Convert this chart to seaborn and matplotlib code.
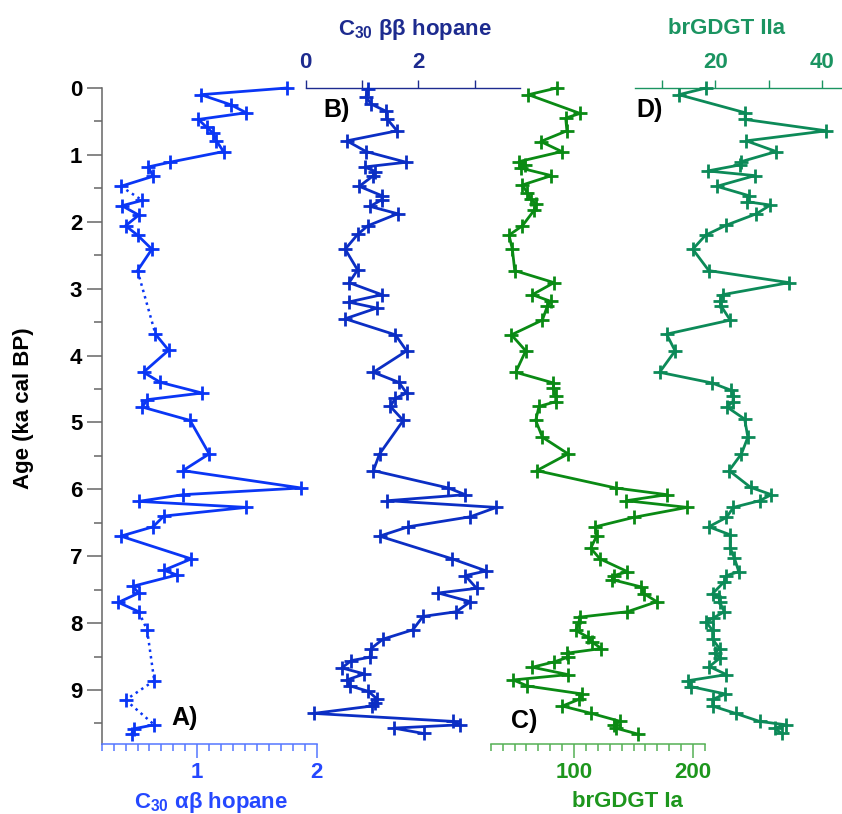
import numpy as np
import pandas as pd
import matplotlib
matplotlib.use("Agg")
import matplotlib.pyplot as plt
import seaborn as sns
from matplotlib.ticker import FixedLocator, MultipleLocator

# --- data (age in ka cal BP) ---
ages_a = [0.00, 0.10, 0.25, 0.37, 0.47, 0.59, 0.67, 0.79, 0.95, 1.11,
          1.18, 1.32, 1.47, 1.68, 1.76, 1.90, 2.06, 2.20, 2.41, 2.73,
          3.68, 3.92, 4.25, 4.40, 4.56, 4.66, 4.77, 4.97, 5.47, 5.72,
          5.98, 6.08, 6.18, 6.27, 6.40, 6.56, 6.70, 7.04, 7.21, 7.28,
          7.45, 7.55, 7.69, 7.83, 8.10, 8.86, 9.15, 9.52, 9.58, 9.66]
hopane_ab = [1.75, 1.03, 1.28, 1.41, 1.01, 1.08, 1.13, 1.16, 1.22, 0.77,
             0.59, 0.63, 0.36, 0.54, 0.37, 0.51, 0.40, 0.50, 0.62, 0.50,
             0.65, 0.76, 0.55, 0.69, 1.04, 0.58, 0.54, 0.94, 1.10, 0.88,
             1.87, 0.88, 0.51, 1.41, 0.72, 0.63, 0.36, 0.95, 0.72, 0.83,
             0.46, 0.51, 0.34, 0.51, 0.58, 0.64, 0.40, 0.64, 0.47, 0.45]
# segments (start index) drawn dotted in panel A
dotted_a = [12, 19, 43, 44, 45, 46]

ages_b = [0.01, 0.13, 0.24, 0.35, 0.46, 0.64, 0.79, 0.95, 1.11, 1.18,
          1.25, 1.31, 1.47, 1.61, 1.67, 1.77, 1.88, 2.06, 2.19, 2.41,
          2.72, 2.91, 3.09, 3.20, 3.29, 3.45, 3.69, 3.93, 4.25, 4.40,
          4.56, 4.64, 4.76, 4.97, 5.47, 5.72, 5.98, 6.08, 6.17, 6.27,
          6.41, 6.56, 6.70, 7.04, 7.22, 7.29, 7.48, 7.55, 7.68, 7.83,
          7.90, 8.10, 8.24, 8.38, 8.51, 8.56, 8.67, 8.76, 8.85, 8.94,
          9.02, 9.13, 9.19, 9.24, 9.35, 9.47, 9.52, 9.57, 9.65]
hopane_bb = [1.10, 1.07, 1.16, 1.43, 1.44, 1.62, 0.73, 1.07, 1.78, 1.05,
             1.23, 1.20, 0.95, 1.35, 1.35, 1.14, 1.63, 1.10, 0.92, 0.70,
             0.92, 0.77, 1.35, 0.76, 1.26, 0.70, 1.59, 1.79, 1.20, 1.65,
             1.79, 1.59, 1.50, 1.73, 1.31, 1.20, 2.53, 2.83, 1.45, 3.38,
             2.92, 1.82, 1.31, 2.60, 3.20, 2.83, 3.03, 2.35, 2.92, 2.67,
             2.08, 1.90, 1.37, 1.16, 1.14, 0.81, 0.64, 1.04, 0.73, 0.79,
             1.11, 1.26, 1.23, 1.17, 0.14, 2.62, 2.74, 1.56, 2.09]

ages_c = [0.00, 0.10, 0.38, 0.45, 0.64, 0.80, 0.95, 1.10, 1.15, 1.20,
          1.31, 1.45, 1.57, 1.66, 1.73, 1.83, 2.06, 2.20, 2.41, 2.73,
          2.91, 3.09, 3.19, 3.26, 3.47, 3.69, 3.93, 4.25, 4.41, 4.49,
          4.60, 4.69, 4.76, 4.97, 5.22, 5.47, 5.72, 5.98, 6.08, 6.17,
          6.27, 6.42, 6.56, 6.70, 6.88, 7.04, 7.23, 7.29, 7.35, 7.46,
          7.56, 7.68, 7.83, 7.91, 7.99, 8.11, 8.21, 8.28, 8.38, 8.45,
          8.51, 8.58, 8.66, 8.77, 8.85, 8.94, 9.06, 9.14, 9.24, 9.35,
          9.47, 9.52, 9.57, 9.66]
brgdgt_ia = [85.5, 61.7, 105, 93, 94, 72, 89.7, 53.8, 58.6, 55.8,
             81, 56.6, 60.8, 63.6, 67.8, 66.4, 56.6, 45.4, 48.2, 50.2,
             83.2, 65, 80.4, 77.6, 73.4, 47.4, 59.4, 51, 82.7, 82.7,
             84.6, 84.6, 70.6, 67.8, 73.4, 95, 68.7, 135, 178, 144,
             195, 150, 118, 119, 114, 121.8, 144.8, 133.6, 132, 156.6,
             158.8, 169.5, 144.8, 105, 104, 101.4, 111.8, 114.9, 123, 93.9,
             95, 83.2, 65, 95, 49, 60.8, 107, 104.2, 90.2, 114.6,
             139, 133.6, 135, 153.8]

ages_d = [0.00, 0.10, 0.37, 0.47, 0.64, 0.79, 0.95, 1.10, 1.15, 1.24,
          1.31, 1.47, 1.61, 1.70, 1.75, 1.88, 2.05, 2.20, 2.41, 2.73,
          2.91, 3.09, 3.19, 3.26, 3.47, 3.68, 3.93, 4.25, 4.41, 4.52,
          4.60, 4.69, 4.77, 4.95, 5.22, 5.47, 5.72, 5.97, 6.08, 6.17,
          6.27, 6.42, 6.56, 6.68, 6.88, 7.03, 7.23, 7.29, 7.38, 7.56,
          7.61, 7.68, 7.83, 7.93, 7.98, 8.11, 8.24, 8.38, 8.45, 8.52,
          8.65, 8.77, 8.86, 8.95, 9.06, 9.14, 9.24, 9.35, 9.47, 9.52,
          9.57, 9.65]
brgdgt_iia = [18.3, 13.2, 25.6, 25.6, 40.8, 25.8, 31.4, 24.9, 24.6, 18.6,
              27.4, 20.3, 26.3, 26.0, 30.3, 27.7, 22.1, 18.2, 15.8, 18.8,
              33.8, 21.4, 20.9, 21.1, 22.8, 10.9, 12.5, 9.6, 19.4, 23.0,
              23.4, 23.3, 22.2, 25.5, 26.1, 24.9, 22.6, 26.6, 30.5, 28.3,
              23.4, 22.1, 18.8, 22.8, 22.8, 23.6, 24.4, 22.1, 21.7, 19.5,
              20.7, 20.8, 21.7, 19.5, 18.3, 19.5, 19.5, 20.8, 19.9, 20.9,
              18.9, 22.1, 15.0, 15.5, 21.9, 19.5, 19.5, 23.8, 28.3, 33.2,
              31.1, 32.4]

# colours
A_LINE, A_AXIS, A_TEXT = "#0a36f5", "#5577ff", "#2548ff"
B_LINE, B_AXIS = "#0b2ec4", "#1d2b8f"
C_LINE, C_AXIS, C_TEXT = "#0a8a14", "#55b055", "#1d961d"
D_LINE, D_AXIS = "#0c8a58", "#1b9461"

W, H = 842, 814
Y_TOP, Y_BOT = 88.0, 743.5
AGE_MAX = 9.8

sns.set_style("white")
plt.rcParams["font.family"] = ["Liberation Sans", "DejaVu Sans"]
plt.rcParams["font.weight"] = "bold"
plt.rcParams["mathtext.fontset"] = "custom"
plt.rcParams["mathtext.rm"] = "Liberation Sans:bold"
plt.rcParams["mathtext.bf"] = "Liberation Sans:bold"
plt.rcParams["mathtext.it"] = "Liberation Sans:bold"


def px_axes(fig, x0, x1):
    ax = fig.add_axes([x0 / W, 1 - Y_BOT / H, (x1 - x0) / W, (Y_BOT - Y_TOP) / H])
    ax.patch.set_visible(False)
    ax.set_ylim(AGE_MAX, 0)
    for s in ax.spines.values():
        s.set_visible(False)
    return ax


def draw(ax, ages, vals, color, dotted=()):
    solid, dots = [], []
    seg = 0
    for i in range(len(ages)):
        solid.append((seg, vals[i], ages[i]))
        if i in dotted:
            dots += [(i, vals[i], ages[i]), (i, vals[i + 1], ages[i + 1])]
            seg += 1
    solid = pd.DataFrame(solid, columns=["seg", "value", "age"])
    sns.lineplot(data=solid, x="value", y="age", units="seg", estimator=None,
                 sort=False, color=color, linewidth=2.0, ax=ax, clip_on=False)
    if dots:
        dots = pd.DataFrame(dots, columns=["seg", "value", "age"])
        sns.lineplot(data=dots, x="value", y="age", units="seg", estimator=None,
                     sort=False, color=color, linewidth=1.8, linestyle=":",
                     ax=ax, clip_on=False)
    sns.scatterplot(x=vals, y=ages, marker="+", s=110, linewidth=2.0,
                    color=color, ax=ax, clip_on=False, zorder=3)
    ax.set_xlabel("")
    ax.set_ylabel("")


fig = plt.figure(figsize=(W / 100, H / 100), dpi=100)

# A) C30 ab hopane, bottom axis + age axis
ax_a = px_axes(fig, 101.7, 316.7)
draw(ax_a, ages_a, hopane_ab, A_LINE, dotted_a)
ax_a.set_xlim(0.2, 2.0)
ax_a.set_ylim(AGE_MAX, 0)
ax_a.spines["left"].set_visible(True)
ax_a.spines["left"].set_color("#666666")
ax_a.spines["left"].set_linewidth(1.1)
ax_a.spines["bottom"].set_visible(True)
ax_a.spines["bottom"].set_color(A_AXIS)
ax_a.spines["bottom"].set_linewidth(1.1)
ax_a.xaxis.set_major_locator(FixedLocator([1, 2]))
ax_a.xaxis.set_minor_locator(FixedLocator(np.arange(0.2, 2.01, 0.1)))
ax_a.yaxis.set_major_locator(MultipleLocator(1))
ax_a.yaxis.set_minor_locator(MultipleLocator(0.5))
ax_a.tick_params(axis="x", which="major", bottom=True, length=10, width=1.1,
                 color=A_AXIS, labelcolor=A_TEXT, labelsize=16, pad=3.5)
ax_a.tick_params(axis="x", which="minor", bottom=True, length=5, width=1.1, color=A_AXIS)
ax_a.tick_params(axis="y", which="major", left=True, length=11, width=1.1,
                 color="#666666", labelcolor="black", labelsize=16, pad=3)
ax_a.tick_params(axis="y", which="minor", left=True, length=5.5, width=1.1, color="#666666")

# B) C30 bb hopane, top axis
ax_b = px_axes(fig, 305.7, 520)
draw(ax_b, ages_b, hopane_bb, B_LINE)
ax_b.set_xlim(0, 3.8)
ax_b.set_ylim(AGE_MAX, 0)
ax_b.set_yticks([])
ax_b.spines["top"].set_visible(True)
ax_b.spines["top"].set_color(B_AXIS)
ax_b.spines["top"].set_linewidth(1.0)
ax_b.xaxis.tick_top()
ax_b.xaxis.set_major_locator(FixedLocator([0, 2]))
ax_b.xaxis.set_minor_locator(FixedLocator([1, 3]))
ax_b.tick_params(axis="x", which="both", top=True, bottom=False, length=6, width=1.0,
                 color=B_AXIS, labelcolor=B_AXIS, labelsize=16, pad=4.5)

# C) brGDGT Ia, bottom axis
ax_c = px_axes(fig, 490.7, 705)
draw(ax_c, ages_c, brgdgt_ia, C_LINE)
ax_c.set_xlim(30, 210)
ax_c.set_ylim(AGE_MAX, 0)
ax_c.set_yticks([])
ax_c.spines["bottom"].set_visible(True)
ax_c.spines["bottom"].set_color(C_AXIS)
ax_c.spines["bottom"].set_linewidth(1.1)
ax_c.xaxis.set_major_locator(FixedLocator([100, 200]))
ax_c.xaxis.set_minor_locator(FixedLocator(np.arange(30, 211, 10)))
ax_c.tick_params(axis="x", which="major", bottom=True, length=10, width=1.1,
                 color=C_AXIS, labelcolor=C_TEXT, labelsize=16, pad=3.5)
ax_c.tick_params(axis="x", which="minor", bottom=True, length=5, width=1.1, color=C_AXIS)

# D) brGDGT IIa, top axis
ax_d = px_axes(fig, 635, 842)
draw(ax_d, ages_d, brgdgt_iia, D_LINE)
ax_d.set_xlim(5, 43.7)
ax_d.set_ylim(AGE_MAX, 0)
ax_d.set_yticks([])
ax_d.spines["top"].set_visible(True)
ax_d.spines["top"].set_color(D_AXIS)
ax_d.spines["top"].set_linewidth(1.0)
ax_d.xaxis.tick_top()
ax_d.xaxis.set_major_locator(FixedLocator([20, 40]))
ax_d.xaxis.set_minor_locator(FixedLocator([10, 30]))
ax_d.tick_params(axis="x", which="both", top=True, bottom=False, length=6, width=1.0,
                 color=D_AXIS, labelcolor=D_AXIS, labelsize=16, pad=4.5)

# axis titles and panel letters (pixel positions)
def ftext(x, y, s, **kw):
    fig.text(x / W, 1 - y / H, s, fontweight="bold", **kw)

ftext(211, 808, r"C$_{\mathbf{30}}$ αβ hopane", color=A_TEXT, fontsize=16, ha="center", va="baseline")
ftext(415, 35, r"C$_{\mathbf{30}}$ ββ hopane", color=B_AXIS, fontsize=16, ha="center", va="baseline")
ftext(627, 807, "brGDGT Ia", color=C_TEXT, fontsize=16, ha="center", va="baseline")
ftext(727, 34, "brGDGT IIa", color=D_AXIS, fontsize=16, ha="center", va="baseline")
ftext(24, 408, "Age (ka cal BP)", color="black", fontsize=16, ha="center", va="center", rotation=90)

ftext(171.7, 725, "A)", color="black", fontsize=18, ha="left", va="baseline")
ftext(323.3, 116.7, "B)", color="black", fontsize=18, ha="left", va="baseline")
ftext(510.7, 728, "C)", color="black", fontsize=18, ha="left", va="baseline")
ftext(636.7, 116.7, "D)", color="black", fontsize=18, ha="left", va="baseline")

fig.savefig("out.png", dpi=100)
plt.close(fig)
